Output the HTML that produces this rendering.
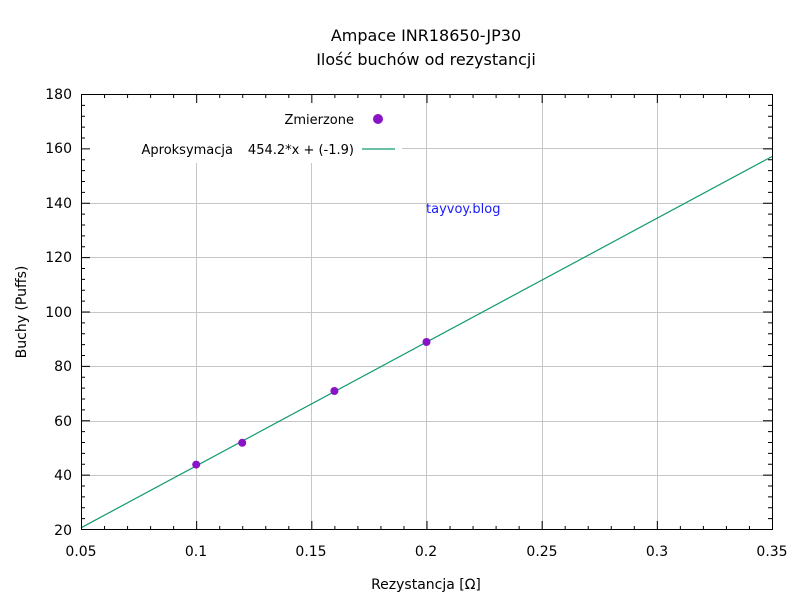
<!DOCTYPE html>
<html><head><meta charset="utf-8"><style>body{margin:0;background:#fff}svg{display:block}text{font-family:"DejaVu Sans","Liberation Sans",sans-serif;fill:#000}</style></head>
<body>
<svg id="s" width="800" height="600" viewBox="0 0 800 600" xmlns="http://www.w3.org/2000/svg">
<rect width="800" height="600" fill="#fff"/>
<g stroke="#c6c6c6" stroke-width="1">
<line x1="196.5" y1="94" x2="196.5" y2="530"/>
<line x1="311.5" y1="94" x2="311.5" y2="530"/>
<line x1="426.5" y1="94" x2="426.5" y2="530"/>
<line x1="542.5" y1="94" x2="542.5" y2="530"/>
<line x1="657.5" y1="94" x2="657.5" y2="530"/>
<line x1="81" y1="475.5" x2="772" y2="475.5"/>
<line x1="81" y1="421.5" x2="772" y2="421.5"/>
<line x1="81" y1="366.5" x2="772" y2="366.5"/>
<line x1="81" y1="312.5" x2="772" y2="312.5"/>
<line x1="81" y1="257.5" x2="772" y2="257.5"/>
<line x1="81" y1="203.5" x2="772" y2="203.5"/>
<line x1="81" y1="148.5" x2="772" y2="148.5"/>
</g>
<rect x="82" y="95" width="320" height="68" fill="#fff"/>
<line x1="81" y1="527.8" x2="772" y2="156.5" stroke="#109a70" stroke-width="1.2"/>
<g fill="#8a13c8">
<circle cx="196.2" cy="464.6" r="4"/>
<circle cx="242.2" cy="442.8" r="4"/>
<circle cx="334.4" cy="391" r="4"/>
<circle cx="426.5" cy="342" r="4"/>
<circle cx="378" cy="119" r="5"/>
</g>
<line x1="362" y1="149" x2="395" y2="149" stroke="#109a70" stroke-width="1.2"/>
<rect x="81.5" y="94.5" width="691" height="435" fill="none" stroke="#000" stroke-width="1"/>
<g id="ticks" stroke="#000" stroke-width="1"></g>
<g font-size="14" text-anchor="end">
<text x="72" y="535">20</text><text x="72" y="480">40</text><text x="72" y="426">60</text>
<text x="72" y="371">80</text><text x="72" y="317">100</text><text x="72" y="262">120</text>
<text x="72" y="208">140</text><text x="72" y="153">160</text><text x="72" y="99">180</text>
</g>
<g font-size="14" text-anchor="middle">
<text x="81" y="556">0.05</text><text x="196" y="556">0.1</text><text x="311" y="556">0.15</text>
<text x="426" y="556">0.2</text><text x="542" y="556">0.25</text><text x="657" y="556">0.3</text><text x="772" y="556">0.35</text>
<text x="426" y="589">Rezystancja [Ω]</text>
<text x="426" y="41" font-size="16">Ampace INR18650-JP30</text>
<text x="426" y="65" font-size="16">Ilość buchów od rezystancji</text>
<text transform="translate(26,312) rotate(-90)">Buchy (Puffs)</text>
</g>
<g font-size="13" text-anchor="end">
<text x="354" y="124">Zmierzone</text>
<text x="354" y="154">454.2*x + (-1.9)</text>
<text x="233" y="154">Aproksymacja</text>
</g>
<text x="426" y="213" font-size="13" style="fill:#1a1aff">tayvoy.blog</text>
</svg>
<script>
var g=document.getElementById('ticks'),ns='http://www.w3.org/2000/svg',d='';
for(var i=0;i<=30;i++){var x=81.5+i*691/30,L=(i%5==0)?9:4;
d+='M'+x+' 530V'+(530-L)+'M'+x+' 94V'+(94+L);}
for(var j=0;j<=40;j++){var y=529.5-j*435/40,L=(j%5==0)?9:4;
d+='M81 '+y+'H'+(81+L)+'M772 '+y+'H'+(772-L);}
var p=document.createElementNS(ns,'path');p.setAttribute('d',d);p.setAttribute('fill','none');g.appendChild(p);
</script>
</body></html>
